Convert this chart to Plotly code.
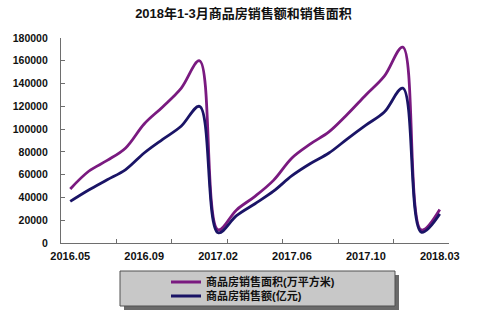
import plotly.graph_objects as go

categories = ["2016.05", "2016.06", "2016.07", "2016.08", "2016.09", "2016.10", "2016.11",
              "2016.12", "2017.02", "2017.03", "2017.04", "2017.05", "2017.06", "2017.07",
              "2017.08", "2017.09", "2017.10", "2017.11", "2017.12", "2018.02", "2018.03"]
area = [47461, 63000, 72500, 83500, 104500, 119500, 135800, 160000, 11500, 29035, 41000,
        55000, 74662, 87000, 97500, 113000, 130000, 146500, 172000, 11500, 29449]
amount = [36500, 46500, 55500, 64500, 79000, 91000, 102503, 120000, 9000, 24000, 34500,
          45500, 59119, 69800, 79000, 91500, 103500, 115000, 136000, 9500, 25595]
label_cats = ["2016.05", "2016.09", "2017.02", "2017.06", "2017.10", "2018.03"]
y_ticks = [0, 20000, 40000, 60000, 80000, 100000, 120000, 140000, 160000, 180000]

FONT = "Liberation Sans, Arial, Noto Sans CJK SC, sans-serif"
AXIS = "#6e6e6e"
W, H = 487, 315
L, R, T, B = 61, 38, 38, 72
pw, ph = W - L - R, H - T - B

def px_x(p):
    return (p - L) / pw

def px_y(p):
    return (H - B - p) / ph

fig = go.Figure()
fig.add_trace(go.Scatter(x=categories, y=area, mode="lines", name="<b>商品房销售面积(万平方米)</b>",
                         line=dict(color="#7a1a80", width=2.8, shape="spline", smoothing=1),
                         legend="legend"))
fig.add_trace(go.Scatter(x=categories, y=amount, mode="lines", name="<b>商品房销售额(亿元)</b>",
                         line=dict(color="#1a1466", width=2.8, shape="spline", smoothing=1),
                         legend="legend2"))
# helper trace for the boundary tick axis
fig.add_trace(go.Scatter(x=[-0.5, len(categories) - 0.5], y=[None, None], xaxis="x2",
                         mode="lines", showlegend=False, hoverinfo="skip"))

n = len(categories)
boundary_ticks = [i - 0.5 for i in range(0, n + 1, 3)]

leg_common = dict(xanchor="left", yanchor="middle", bgcolor="rgba(0,0,0,0)", borderwidth=0,
                  itemwidth=30, font=dict(size=11, color="#111"))

fig.update_layout(
    width=W, height=H,
    margin=dict(l=L, r=R, t=T, b=B, autoexpand=False),
    paper_bgcolor="white", plot_bgcolor="white",
    font=dict(family=FONT, color="#111"),
    title=dict(text="<b>2018年1-3月商品房销售额和销售面积</b>", x=0.5, xanchor="center",
               y=1 - 13 / H, yanchor="middle", font=dict(size=13, color="#111")),
    xaxis=dict(type="category", categoryorder="array", categoryarray=categories,
               range=[-0.5, n - 0.5], tickmode="array", tickvals=label_cats,
               ticktext=["<b>%s</b>" % c for c in label_cats], ticks="",
               showline=True, linecolor=AXIS, linewidth=1.2, showgrid=False, zeroline=False,
               tickfont=dict(size=11, color="#111"), ticklabelstandoff=3, automargin=False),
    xaxis2=dict(overlaying="x", range=[-0.5, n - 0.5], tickmode="array", tickvals=boundary_ticks,
                showticklabels=False, ticks="inside", ticklen=4, tickcolor=AXIS,
                showline=False, showgrid=False, zeroline=False, side="bottom",
                anchor="y", automargin=False),
    yaxis=dict(range=[0, 180000], tickmode="array", tickvals=y_ticks,
               ticktext=["<b>%d</b>" % v for v in y_ticks], ticks="inside", ticklen=4,
               tickcolor=AXIS, showline=True, linecolor=AXIS, linewidth=1.2, showgrid=False,
               zeroline=False, tickfont=dict(size=10.5, color="#111"), ticklabelstandoff=10,
               automargin=False),
    legend=dict(x=px_x(166), y=px_y(282), **leg_common),
    legend2=dict(x=px_x(166), y=px_y(296), **leg_common),
    shapes=[
        dict(type="rect", xref="paper", yref="paper", x0=px_x(124), x1=px_x(399),
             y0=px_y(310), y1=px_y(275), fillcolor="#6a6a6a", line=dict(width=0), layer="below"),
        dict(type="rect", xref="paper", yref="paper", x0=px_x(120), x1=px_x(395),
             y0=px_y(306), y1=px_y(271), fillcolor="#c8c8c8",
             line=dict(color="#505050", width=1), layer="below"),
    ],
)
fig.write_html("out.html")
